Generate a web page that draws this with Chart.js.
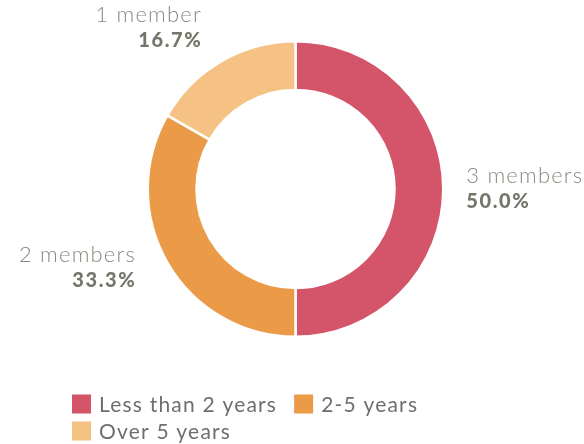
<!DOCTYPE html>
<html>
<head>
<meta charset="utf-8">
<script src="https://cdn.jsdelivr.net/npm/chart.js@4/dist/chart.umd.min.js"></script>
<style>
  html, body { margin: 0; padding: 0; background: #fff; }
  #wrap { position: relative; width: 584px; height: 444px; }
</style>
</head>
<body>
<div id="wrap"><canvas id="c" width="584" height="444"></canvas></div>
<script>
const categories = ["Less than 2 years", "2-5 years", "Over 5 years"];
const memberLabels = ["3 members", "2 members", "1 member"];
const values = [50.0, 33.3, 16.7];
const colors = ["#D4546A", "#EB9A47", "#F6C284"];

const FONT = "Lato, 'Noto Sans', sans-serif";

// per-slice label placement relative to arc center/outer radius
const labelPlacement = [
  { align: "left",  dx: 23,  dy: 0 },     // right of ring
  { align: "right", dx: -13, dy: 79 },    // lower left
  { align: "right", dx: 53,  dy: -161 }   // upper left
];

function setSpacing(ctx, v) {
  if ("letterSpacing" in ctx) ctx.letterSpacing = v + "px";
}

const labelPlugin = {
  id: "sliceLabels",
  afterDatasetsDraw(chart) {
    const ctx = chart.ctx;
    const meta = chart.getDatasetMeta(0);
    meta.data.forEach((arc, i) => {
      const p = labelPlacement[i];
      const cx = arc.x, cy = arc.y, R = arc.outerRadius;
      const y = cy + p.dy;
      const x = p.align === "left" ? cx + R + p.dx : cx - R + p.dx;
      ctx.save();
      ctx.textBaseline = "middle";
      ctx.fillStyle = "#8a8a80";
      ctx.font = "300 22px " + FONT;
      setSpacing(ctx, 1.2);
      let tx = x;
      if (p.align === "right") tx = x - ctx.measureText(memberLabels[i]).width + 1.2;
      ctx.textAlign = "left";
      ctx.fillText(memberLabels[i], tx, y - 13);
      ctx.fillStyle = "#75756a";
      ctx.font = "900 20px " + FONT;
      setSpacing(ctx, 1.6);
      const pct = values[i].toFixed(1) + "%";
      tx = x;
      if (p.align === "right") tx = x - ctx.measureText(pct).width + 1.6;
      ctx.fillText(pct, tx, y + 13);
      ctx.restore();
    });
  }
};

const legendPlugin = {
  id: "customLegend",
  afterDraw(chart) {
    const ctx = chart.ctx;
    ctx.save();
    ctx.font = "21px " + FONT;
    setSpacing(ctx, 1.2);
    ctx.textBaseline = "middle";
    const startX = 72, rowY = [404, 431], box = 19, gap = 8, itemGap = 17, maxX = 430;
    let x = startX, row = 0;
    categories.forEach((c, i) => {
      const w = box + gap + ctx.measureText(c).width;
      if (x + w > maxX && x > startX) { row++; x = startX; }
      const y = rowY[row];
      ctx.fillStyle = colors[i];
      ctx.fillRect(x, y - box / 2, box, box);
      ctx.fillStyle = "#6e6e6e";
      ctx.textAlign = "left";
      ctx.fillText(c, x + box + gap, y + 1);
      x += w + itemGap;
    });
    ctx.restore();
  }
};

new Chart(document.getElementById("c"), {
  type: "doughnut",
  data: {
    labels: categories,
    datasets: [{
      data: values,
      backgroundColor: colors,
      borderColor: "#ffffff",
      borderWidth: 2.5,
      hoverOffset: 0
    }]
  },
  options: {
    responsive: false,
    animation: false,
    cutout: "67%",
    layout: { padding: { top: 40, bottom: 106, left: 7, right: 0 } },
    plugins: { legend: { display: false }, tooltip: { enabled: false } }
  },
  plugins: [labelPlugin, legendPlugin]
});
</script>
</body>
</html>
